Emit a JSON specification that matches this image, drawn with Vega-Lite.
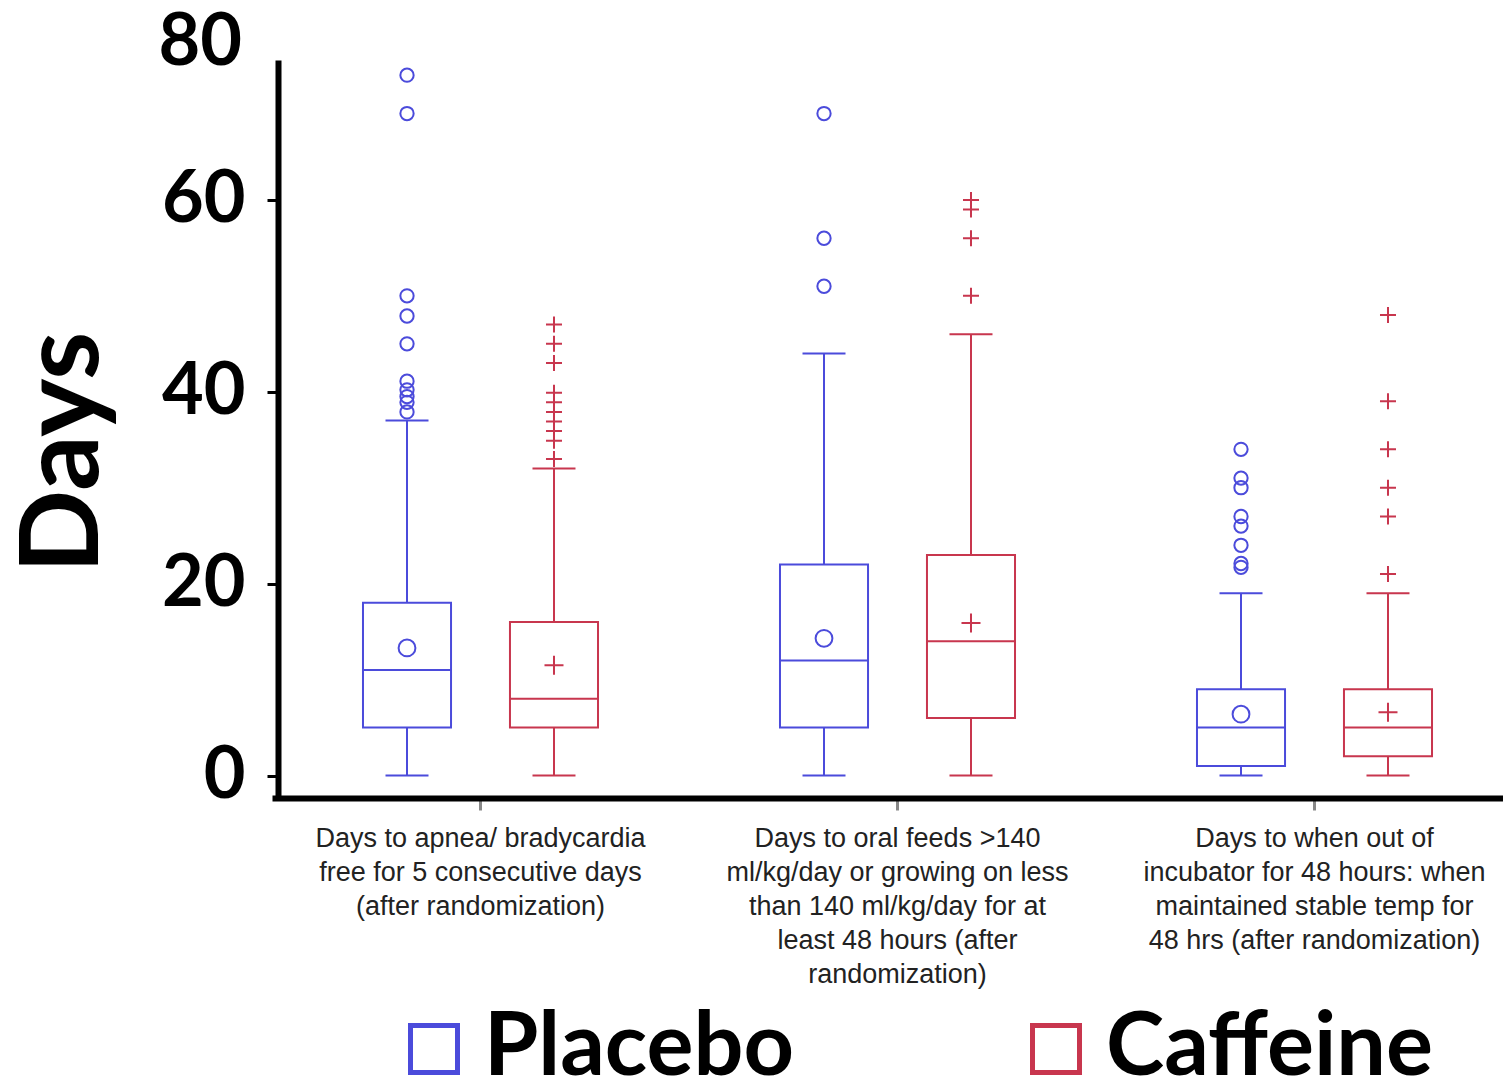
{
  "$schema": "https://vega.github.io/schema/vega-lite/v6.json",
  "width": 1225,
  "height": 738,
  "autosize": {"type": "none"},
  "padding": {"left": 278, "top": 60, "right": 0, "bottom": 284},
  "background": "white",
  "config": {"view": {"stroke": null}},
  "datasets": {
    "boxes": [
      {"measure": "Days to apnea/ bradycardia|free for 5 consecutive days|(after randomization)", "trt": "Placebo", "low": 0, "q1": 5, "med": 11, "q3": 18, "high": 37, "mean": 13.3},
      {"measure": "Days to apnea/ bradycardia|free for 5 consecutive days|(after randomization)", "trt": "Caffeine", "low": 0, "q1": 5, "med": 8, "q3": 16, "high": 32, "mean": 11.5},
      {"measure": "Days to oral feeds >140|ml/kg/day or growing on less|than 140 ml/kg/day for at|least 48 hours (after|randomization)", "trt": "Placebo", "low": 0, "q1": 5, "med": 12, "q3": 22, "high": 44, "mean": 14.3},
      {"measure": "Days to oral feeds >140|ml/kg/day or growing on less|than 140 ml/kg/day for at|least 48 hours (after|randomization)", "trt": "Caffeine", "low": 0, "q1": 6, "med": 14, "q3": 23, "high": 46, "mean": 15.9},
      {"measure": "Days to when out of|incubator for 48 hours: when|maintained stable temp for|48 hrs (after randomization)", "trt": "Placebo", "low": 0, "q1": 1, "med": 5, "q3": 9, "high": 19, "mean": 6.4},
      {"measure": "Days to when out of|incubator for 48 hours: when|maintained stable temp for|48 hrs (after randomization)", "trt": "Caffeine", "low": 0, "q1": 2, "med": 5, "q3": 9, "high": 19, "mean": 6.6}
    ],
    "outliers": [
      {"measure": "Days to apnea/ bradycardia|free for 5 consecutive days|(after randomization)", "trt": "Placebo", "v": 73},
      {"measure": "Days to apnea/ bradycardia|free for 5 consecutive days|(after randomization)", "trt": "Placebo", "v": 69},
      {"measure": "Days to apnea/ bradycardia|free for 5 consecutive days|(after randomization)", "trt": "Placebo", "v": 50},
      {"measure": "Days to apnea/ bradycardia|free for 5 consecutive days|(after randomization)", "trt": "Placebo", "v": 47.9},
      {"measure": "Days to apnea/ bradycardia|free for 5 consecutive days|(after randomization)", "trt": "Placebo", "v": 45},
      {"measure": "Days to apnea/ bradycardia|free for 5 consecutive days|(after randomization)", "trt": "Placebo", "v": 41.1},
      {"measure": "Days to apnea/ bradycardia|free for 5 consecutive days|(after randomization)", "trt": "Placebo", "v": 40.2},
      {"measure": "Days to apnea/ bradycardia|free for 5 consecutive days|(after randomization)", "trt": "Placebo", "v": 39.5},
      {"measure": "Days to apnea/ bradycardia|free for 5 consecutive days|(after randomization)", "trt": "Placebo", "v": 38.9},
      {"measure": "Days to apnea/ bradycardia|free for 5 consecutive days|(after randomization)", "trt": "Placebo", "v": 37.9},
      {"measure": "Days to apnea/ bradycardia|free for 5 consecutive days|(after randomization)", "trt": "Caffeine", "v": 47},
      {"measure": "Days to apnea/ bradycardia|free for 5 consecutive days|(after randomization)", "trt": "Caffeine", "v": 45},
      {"measure": "Days to apnea/ bradycardia|free for 5 consecutive days|(after randomization)", "trt": "Caffeine", "v": 43},
      {"measure": "Days to apnea/ bradycardia|free for 5 consecutive days|(after randomization)", "trt": "Caffeine", "v": 39.9},
      {"measure": "Days to apnea/ bradycardia|free for 5 consecutive days|(after randomization)", "trt": "Caffeine", "v": 38.9},
      {"measure": "Days to apnea/ bradycardia|free for 5 consecutive days|(after randomization)", "trt": "Caffeine", "v": 37.9},
      {"measure": "Days to apnea/ bradycardia|free for 5 consecutive days|(after randomization)", "trt": "Caffeine", "v": 36.9},
      {"measure": "Days to apnea/ bradycardia|free for 5 consecutive days|(after randomization)", "trt": "Caffeine", "v": 35.9},
      {"measure": "Days to apnea/ bradycardia|free for 5 consecutive days|(after randomization)", "trt": "Caffeine", "v": 34.9},
      {"measure": "Days to apnea/ bradycardia|free for 5 consecutive days|(after randomization)", "trt": "Caffeine", "v": 33},
      {"measure": "Days to oral feeds >140|ml/kg/day or growing on less|than 140 ml/kg/day for at|least 48 hours (after|randomization)", "trt": "Placebo", "v": 69},
      {"measure": "Days to oral feeds >140|ml/kg/day or growing on less|than 140 ml/kg/day for at|least 48 hours (after|randomization)", "trt": "Placebo", "v": 56},
      {"measure": "Days to oral feeds >140|ml/kg/day or growing on less|than 140 ml/kg/day for at|least 48 hours (after|randomization)", "trt": "Placebo", "v": 51},
      {"measure": "Days to oral feeds >140|ml/kg/day or growing on less|than 140 ml/kg/day for at|least 48 hours (after|randomization)", "trt": "Caffeine", "v": 60},
      {"measure": "Days to oral feeds >140|ml/kg/day or growing on less|than 140 ml/kg/day for at|least 48 hours (after|randomization)", "trt": "Caffeine", "v": 59},
      {"measure": "Days to oral feeds >140|ml/kg/day or growing on less|than 140 ml/kg/day for at|least 48 hours (after|randomization)", "trt": "Caffeine", "v": 56},
      {"measure": "Days to oral feeds >140|ml/kg/day or growing on less|than 140 ml/kg/day for at|least 48 hours (after|randomization)", "trt": "Caffeine", "v": 50},
      {"measure": "Days to when out of|incubator for 48 hours: when|maintained stable temp for|48 hrs (after randomization)", "trt": "Placebo", "v": 34},
      {"measure": "Days to when out of|incubator for 48 hours: when|maintained stable temp for|48 hrs (after randomization)", "trt": "Placebo", "v": 31},
      {"measure": "Days to when out of|incubator for 48 hours: when|maintained stable temp for|48 hrs (after randomization)", "trt": "Placebo", "v": 30},
      {"measure": "Days to when out of|incubator for 48 hours: when|maintained stable temp for|48 hrs (after randomization)", "trt": "Placebo", "v": 27},
      {"measure": "Days to when out of|incubator for 48 hours: when|maintained stable temp for|48 hrs (after randomization)", "trt": "Placebo", "v": 26},
      {"measure": "Days to when out of|incubator for 48 hours: when|maintained stable temp for|48 hrs (after randomization)", "trt": "Placebo", "v": 24},
      {"measure": "Days to when out of|incubator for 48 hours: when|maintained stable temp for|48 hrs (after randomization)", "trt": "Placebo", "v": 22.1},
      {"measure": "Days to when out of|incubator for 48 hours: when|maintained stable temp for|48 hrs (after randomization)", "trt": "Placebo", "v": 21.7},
      {"measure": "Days to when out of|incubator for 48 hours: when|maintained stable temp for|48 hrs (after randomization)", "trt": "Caffeine", "v": 48},
      {"measure": "Days to when out of|incubator for 48 hours: when|maintained stable temp for|48 hrs (after randomization)", "trt": "Caffeine", "v": 39},
      {"measure": "Days to when out of|incubator for 48 hours: when|maintained stable temp for|48 hrs (after randomization)", "trt": "Caffeine", "v": 34},
      {"measure": "Days to when out of|incubator for 48 hours: when|maintained stable temp for|48 hrs (after randomization)", "trt": "Caffeine", "v": 30},
      {"measure": "Days to when out of|incubator for 48 hours: when|maintained stable temp for|48 hrs (after randomization)", "trt": "Caffeine", "v": 27},
      {"measure": "Days to when out of|incubator for 48 hours: when|maintained stable temp for|48 hrs (after randomization)", "trt": "Caffeine", "v": 21}
    ]
  },
  "layer": [
    {
      "encoding": {
        "x": {
          "field": "measure",
          "type": "nominal",
          "sort": [
            "Days to apnea/ bradycardia|free for 5 consecutive days|(after randomization)",
            "Days to oral feeds >140|ml/kg/day or growing on less|than 140 ml/kg/day for at|least 48 hours (after|randomization)",
            "Days to when out of|incubator for 48 hours: when|maintained stable temp for|48 hrs (after randomization)"
          ],
          "scale": {"range": [-6, 1245], "paddingInner": 0, "paddingOuter": 0},
          "axis": {
            "title": null,
            "labelExpr": "split(datum.label, '|')",
            "labelFont": "Liberation Sans",
            "labelFontSize": 27,
            "labelColor": "#222222",
            "labelLineHeight": 34,
            "labelPadding": 15,
            "labelLimit": 0,
            "labelAngle": 0,
            "labelBaseline": "top",
            "domainWidth": 6,
            "domainColor": "black",
            "tickColor": "#888888",
            "tickWidth": 3,
            "tickSize": 12
          }
        },
        "xOffset": {
          "field": "trt",
          "type": "nominal",
          "sort": ["Placebo", "Caffeine"],
          "scale": {"paddingInner": 0.401, "paddingOuter": 0.619}
        },
        "color": {
          "field": "trt",
          "type": "nominal",
          "sort": ["Placebo", "Caffeine"],
          "scale": {"domain": ["Placebo", "Caffeine"], "range": ["#4b4bdb", "#c8364e"]},
          "legend": {
            "title": null,
            "orient": "none",
            "legendX": 112,
            "legendY": 945,
            "direction": "horizontal",
            "padding": 0,
            "symbolType": "square",
            "symbolSize": 2209,
            "symbolStrokeWidth": 5,
            "symbolFillColor": "white",
            "labelFont": "Lato",
            "labelFontSize": 88,
            "labelFontWeight": "bold",
            "labelColor": "black",
            "labelOffset": 6,
            "labelLimit": 0,
            "columnPadding": 218
          }
        }
      },
      "layer": [
        {
          "data": {"name": "boxes"},
          "mark": {"type": "rule", "strokeWidth": 2},
          "encoding": {
            "y": {
              "field": "low",
              "type": "quantitative",
              "scale": {"domain": [-2.34, 74.58], "nice": false, "zero": false},
              "axis": {
                "title": "Days",
                "values": [0, 20, 40, 60],
                "grid": false,
                "domainWidth": 6,
                "domainColor": "black",
                "tickColor": "black",
                "tickWidth": 3,
                "tickSize": 11,
                "labelFont": "Lato",
                "labelFontSize": 72,
                "labelFontWeight": "bold",
                "labelColor": "black",
                "labelPadding": 22,
                "labelBaseline": "middle",
                "titleFont": "Lato",
                "titleFontSize": 110,
                "titleFontWeight": "bold",
                "titleColor": "black",
                "titleX": -214,
                "titleY": 392,
                "titleAngle": -90,
                "titleAlign": "center",
                "titleBaseline": "middle"
              }
            },
            "y2": {"field": "q1"}
          }
        },
        {
          "data": {"name": "boxes"},
          "mark": {"type": "rule", "strokeWidth": 2},
          "encoding": {
            "y": {"field": "q3", "type": "quantitative", "title": "Days"},
            "y2": {"field": "high"}
          }
        },
        {
          "data": {"name": "boxes"},
          "mark": {"type": "bar", "filled": false, "strokeWidth": 2},
          "encoding": {
            "y": {"field": "q1", "type": "quantitative", "title": "Days"},
            "y2": {"field": "q3"}
          }
        },
        {
          "data": {"name": "boxes"},
          "mark": {"type": "bar", "filled": false, "strokeWidth": 2},
          "encoding": {
            "y": {"field": "med", "type": "quantitative", "title": "Days"},
            "y2": {"field": "med"}
          }
        },
        {
          "data": {"name": "boxes"},
          "mark": {"type": "bar", "filled": false, "strokeWidth": 2, "width": 43},
          "encoding": {
            "y": {"field": "low", "type": "quantitative", "title": "Days"},
            "y2": {"field": "low"}
          }
        },
        {
          "data": {"name": "boxes"},
          "mark": {"type": "bar", "filled": false, "strokeWidth": 2, "width": 43},
          "encoding": {
            "y": {"field": "high", "type": "quantitative", "title": "Days"},
            "y2": {"field": "high"}
          }
        },
        {
          "data": {"name": "boxes"},
          "transform": [{"filter": "datum.trt == 'Placebo'"}],
          "mark": {"type": "point", "shape": "circle", "size": 283, "filled": false, "strokeWidth": 2, "opacity": 1},
          "encoding": {
            "y": {"field": "mean", "type": "quantitative", "title": "Days"}
          }
        },
        {
          "data": {"name": "boxes"},
          "transform": [{"filter": "datum.trt == 'Caffeine'"}],
          "mark": {"type": "point", "shape": "M-1,0H1M0,-1V1", "size": 361, "filled": false, "strokeWidth": 2, "opacity": 1},
          "encoding": {
            "y": {"field": "mean", "type": "quantitative", "title": "Days"}
          }
        },
        {
          "data": {"name": "outliers"},
          "transform": [{"filter": "datum.trt == 'Placebo'"}],
          "mark": {"type": "point", "shape": "circle", "size": 177, "filled": false, "strokeWidth": 2, "opacity": 1},
          "encoding": {
            "y": {"field": "v", "type": "quantitative", "title": "Days"}
          }
        },
        {
          "data": {"name": "outliers"},
          "transform": [{"filter": "datum.trt == 'Caffeine'"}],
          "mark": {"type": "point", "shape": "M-1,0H1M0,-1V1", "size": 256, "filled": false, "strokeWidth": 2, "opacity": 1},
          "encoding": {
            "y": {"field": "v", "type": "quantitative", "title": "Days"}
          }
        }
      ]
    },
    {
      "data": {"values": [{"v": 80, "t": "80"}]},
      "mark": {"type": "text", "align": "right", "baseline": "top", "dx": -36, "font": "Lato", "fontSize": 72, "fontWeight": "bold", "color": "black", "clip": false},
      "encoding": {
        "x": {"value": 0},
        "y": {"field": "v", "type": "quantitative", "title": "Days"},
        "text": {"field": "t"}
      }
    }
  ]
}
